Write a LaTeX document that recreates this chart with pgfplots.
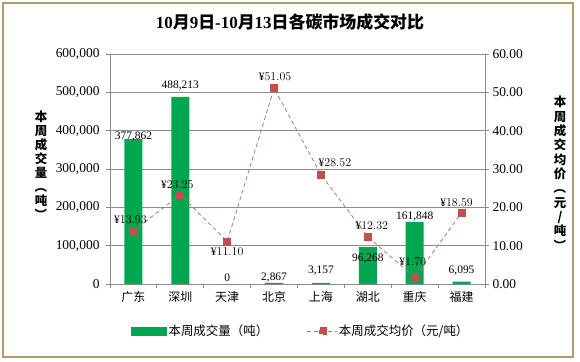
\documentclass[border=0pt]{standalone}
\usepackage{pgfplots}
\pgfplotsset{compat=1.18}
\usepackage{pgfplotstable}
\usepackage{fontspec}
\setmainfont{Liberation Serif}
\newfontfamily\cjk{Noto Sans CJK SC}
\newcommand\C[1]{{\cjk #1}}
\newcommand\VL{\rotatebox[origin=c]{-90}{（}}
\newcommand\VR{\rotatebox[origin=c]{-90}{）}}
\definecolor{barg}{RGB}{0,166,80}
\definecolor{mk}{RGB}{192,80,77}
\definecolor{ln}{RGB}{168,122,118}
\definecolor{gr}{RGB}{140,140,140}
\definecolor{framec}{RGB}{175,155,105}

\pgfplotstableread{
x vol dy
0 377862 3
1 488213 11
2 0 6
3 2867 5
4 3157 12
5 96268 -11
6 161848 5
7 6095 11
}\voltable
\pgfplotstableread{
x price dx dy
0 13.93 -3 11
1 23.25 -3 10
2 11.10 0 -10
3 51.05 1 12
4 28.52 14 12
5 12.32 4 11
6 1.70 -2 16
7 18.59 -5 10
}\pricetable

\begin{document}
\begin{tikzpicture}[x=1bp,y=1bp]
\useasboundingbox (0,0) rectangle (580,361);
\draw[framec, line width=1.2bp] (3,4) rectangle (573,358);
\node[font=\fontsize{17}{20}\selectfont\bfseries] at (290,339) {10\C{月}9\C{日}-10\C{月}13\C{日各碳市场成交对比}};
\node[font=\cjk\bfseries\fontsize{12.5}{14}\selectfont, align=center] at (41,195) {本\\周\\成\\交\\量\\\VL\\吨\\\VR};
\node[font=\cjk\bfseries\fontsize{12.5}{14.4}\selectfont, align=center] at (560,187) {本\\周\\成\\交\\均\\价\\\VL\\元\\/\\吨\\\VR};

\begin{axis}[
  at={(110bp,77bp)}, anchor=south west,
  width=375bp, height=230bp, scale only axis,
  xmin=-0.5, xmax=7.5, ymin=0, ymax=600000,
  axis x line*=bottom, axis y line*=left,
  axis line style={gr, line width=0.8bp},
  xtick={0,...,7},
  xticklabels={广东,深圳,天津,北京,上海,湖北,重庆,福建},
  major x tick style={draw=none},
  minor xtick={-0.5,0.5,...,7.5},
  minor x tick style={gr, line width=0.8bp},
  tick align=outside, major tick length=4bp, minor tick length=4bp,
  tick style={gr, line width=0.8bp},
  ymajorgrids, grid style={gr, line width=0.8bp},
  ytick={0,100000,...,600000}, scaled y ticks=false,
  yticklabel style={font=\fontsize{13.5}{15}\selectfont, xshift=-3bp, /pgf/number format/.cd, fixed, 1000 sep={,}, assume math mode=true},
  xticklabel style={font=\cjk\fontsize{12}{14}\selectfont},
]
\addplot[ybar, bar width=18bp, fill=barg, draw=none,
  visualization depends on={\thisrow{dy} \as \vdy},
  nodes near coords,
  every node near coord/.append style={anchor=center, yshift=\vdy bp, font=\fontsize{11.5}{13}\selectfont, text=black, /pgf/number format/.cd, fixed, precision=0, 1000 sep={,}, assume math mode=true}]
  table[x=x,y=vol]{\voltable};
\end{axis}

\begin{axis}[
  at={(110bp,77bp)}, anchor=south west,
  width=375bp, height=230bp, scale only axis,
  xmin=-0.5, xmax=7.5, ymin=0, ymax=60,
  axis y line*=right, axis x line=none,
  axis line style={gr, line width=0.8bp},
  ytick={0,10,...,60},
  yticklabel style={font=\fontsize{13.5}{15}\selectfont, /pgf/number format/.cd, fixed, fixed zerofill, precision=2, assume math mode=true},
  tick align=outside, major tick length=4bp,
  tick style={gr, line width=0.8bp},
  legend columns=2, legend cell align=left,
  legend style={at={(axis description cs:0.048,-0.204)}, anchor=west, draw=none, fill=none,
    font=\cjk\fontsize{12.5}{14}\selectfont,
    /tikz/every even column/.append style={column sep=36bp}},
]
\addlegendimage{legend image code/.code={\fill[barg] (0bp,-4bp) rectangle (35bp,4bp);}}
\addlegendentry{本周成交量（吨）}
\addplot[ln, line width=0.8bp, dash pattern=on 4bp off 3bp,
  mark=square*, mark size=3.5bp, mark options={solid, fill=mk, draw=mk},
  visualization depends on={\thisrow{dx} \as \dx},
  visualization depends on={\thisrow{dy} \as \dy},
  nodes near coords={¥\pgfmathprintnumber[fixed,fixed zerofill,precision=2]{\pgfplotspointmeta}},
  every node near coord/.append style={anchor=center, xshift=\dx bp, yshift=\dy bp, font=\fontsize{11.5}{13}\selectfont, text=black},
  legend image code/.code={\draw[ln, line width=0.8bp, dash pattern=on 4bp off 3bp] (0bp,0bp) -- (30bp,0bp); \fill[mk] (13bp,-3.5bp) rectangle (20bp,3.5bp);}]
  table[x=x,y=price]{\pricetable};
\addlegendentry{本周成交均价（元/吨）}
\end{axis}
\end{tikzpicture}
\end{document}
